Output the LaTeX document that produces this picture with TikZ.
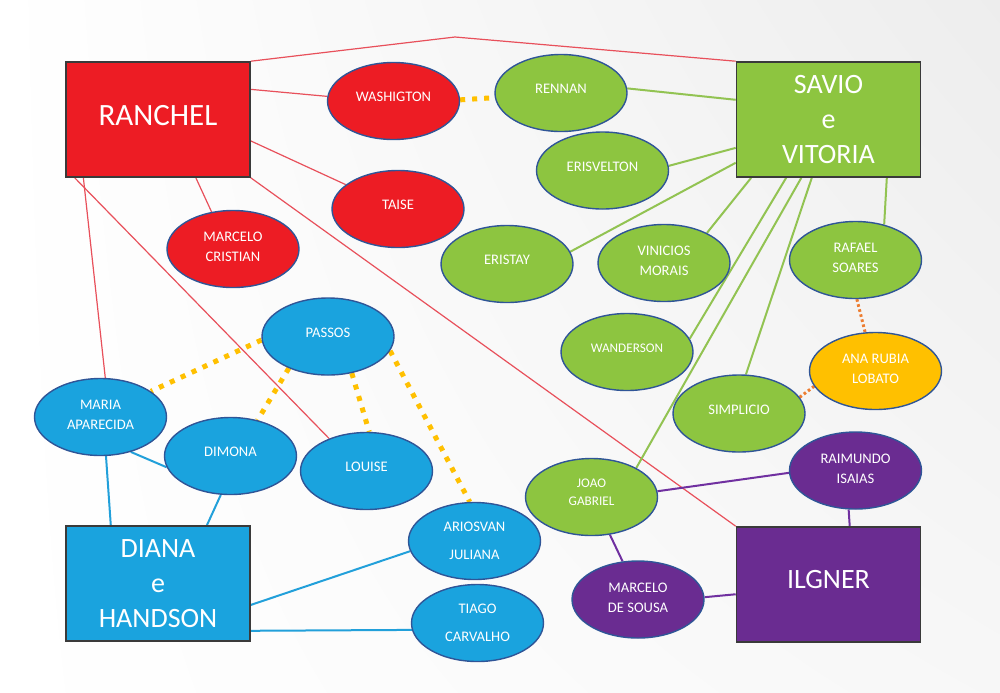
\documentclass[tikz,border=0pt]{standalone}
\usepackage{fontspec}
\setmainfont{Carlito}
\usetikzlibrary{shapes.geometric,shadings}
\definecolor{vermelho}{HTML}{ED1C24}
\definecolor{verde}{HTML}{8DC540}
\definecolor{azul}{HTML}{1AA3DE}
\definecolor{roxo}{HTML}{6A2C91}
\definecolor{ouro}{HTML}{FFC000}
\definecolor{laranja}{HTML}{ED7D31}
\definecolor{contorno}{HTML}{2F5597}
\definecolor{borda}{HTML}{3A3A3A}
\definecolor{linhaver}{HTML}{E8505B}
\definecolor{linhaverde}{HTML}{92C352}
\definecolor{linhaazul}{HTML}{22A0DA}
\definecolor{linharoxo}{HTML}{7030A0}
\pgfdeclarelayer{fundo}
\pgfdeclarelayer{linhas}
\pgfsetlayers{fundo,linhas,main}

\begin{document}
\begin{tikzpicture}[x=0.5pt,y=-0.5pt,
  caixa/.style={draw=borda, line width=0.8pt, minimum width=92pt, minimum height=57.5pt,
    inner sep=0pt, align=center, text=white, font=\fontsize{14}{17.5}\selectfont},
  pessoa/.style={ellipse, draw=contorno, line width=0.7pt, minimum width=66pt,
    minimum height=38.5pt, inner sep=0pt, align=center, text=white, text depth=4pt,
    font=\fontsize{7.3}{10}\selectfont},
  duas/.style={text depth=2pt},
  largas/.style={text depth=-2.6pt},
  fioR/.style={linhaver, line width=0.6pt},
  fioG/.style={linhaverde, line width=1pt},
  fioB/.style={linhaazul, line width=1pt},
  fioP/.style={linharoxo, line width=1pt},
  pontos/.style={ouro, line width=2.5pt, dash pattern=on 2.5pt off 3.5pt},
  pontinhos/.style={laranja, line width=1.5pt, dash pattern=on 1.3pt off 1.3pt}]
\useasboundingbox (0,0) rectangle (1000,692);
\begin{pgfonlayer}{fundo}
\shade[upper left=white, upper right=black!7, lower left=white, lower right=black!3]
  (0,0) rectangle (1000,692);
\end{pgfonlayer}
% boxes
\node[caixa, fill=vermelho, text depth=4.5pt, font=\fontsize{15.5}{18}\selectfont] (ranchel) at (158,119.5) {RANCHEL};
\node[caixa, fill=verde] (savio) at (828.5,119.5) {SAVIO\\e\\VITORIA};
\node[caixa, fill=azul] (diana) at (158,583.5) {DIANA\\e\\HANDSON};
\node[caixa, fill=roxo, text depth=5.5pt] (ilgner) at (828.5,584.5) {ILGNER};
\coordinate (topo) at (455,37);
% red ones
\node[pessoa, fill=vermelho] (washigton) at (393.5,101) {WASHIGTON};
\node[pessoa, fill=vermelho] (taise) at (398,209) {TAISE};
\node[pessoa, duas, fill=vermelho] (mcristian) at (233,249) {MARCELO\\CRISTIAN};
% green ones
\node[pessoa, fill=verde] (rennan) at (561,93) {RENNAN};
\node[pessoa, fill=verde] (erisvelton) at (602.5,170.5) {ERISVELTON};
\node[pessoa, fill=verde] (eristay) at (507,264) {ERISTAY};
\node[pessoa, duas, fill=verde] (vinicios) at (664,263) {VINICIOS\\MORAIS};
\node[pessoa, duas, fill=verde] (rafael) at (855.5,260) {RAFAEL\\SOARES};
\node[pessoa, fill=verde, font=\fontsize{6.6}{9}\selectfont] (wanderson) at (627,352) {WANDERSON};
\node[pessoa, fill=verde] (simplicio) at (739,413.5) {SIMPLICIO};
\node[pessoa, fill=verde, text depth=4.5pt, font=\fontsize{6.6}{9}\selectfont] (joao) at (591.5,497) {JOAO\\GABRIEL};
\node[pessoa, duas, fill=ouro] (ana) at (875.5,371) {ANA RUBIA\\LOBATO};
% purple ones
\node[pessoa, duas, fill=roxo] (raimundo) at (855.5,470.5) {RAIMUNDO\\ISAIAS};
\node[pessoa, duas, fill=roxo] (msousa) at (638,599.5) {MARCELO\\DE SOUSA};
% blue ones
\node[pessoa, fill=azul] (passos) at (328,336.5) {PASSOS};
\node[pessoa, duas, fill=azul] (maria) at (100.5,417) {MARIA\\APARECIDA};
\node[pessoa, fill=azul] (dimona) at (230.5,456) {DIMONA};
\node[pessoa, fill=azul] (louise) at (366.5,471) {LOUISE};
\node[pessoa, largas, fill=azul] (ariosvan) at (474.5,541) {ARIOSVAN\\[4pt]JULIANA};
\node[pessoa, largas, fill=azul] (tiago) at (477.5,623) {TIAGO\\[4pt]CARVALHO};
\begin{pgfonlayer}{linhas}
% RANCHEL
\draw[fioR] (ranchel.north east) -- (topo) -- (savio.north west);
\draw[fioR] (ranchel.18) -- (washigton.176);
\draw[fioR] (ranchel.347) -- (taise.155);
\draw[fioR] (ranchel.303) -- (mcristian.120);
\draw[fioR] (ranchel.218) -- (maria.83);
\draw[fioR] (ranchel.215) -- (louise.139);
\draw[fioR] (ranchel.south east) -- (ilgner.north west);
% SAVIO e VITORIA
\draw[fioG] (rennan.4) -- (savio.168);
\draw[fioG] (erisvelton.4) -- (savio.197);
\draw[fioG] (eristay.11) -- (savio.205);
\draw[fioG] (vinicios.35) -- (savio.217);
\draw[fioG] (wanderson.12) -- (savio.234);
\draw[fioG] (joao.33) -- (savio.245);
\draw[fioG] (simplicio.80) -- (savio.254);
\draw[fioG] (rafael.51) -- (savio.315);
% ILGNER
\draw[fioP] (joao.5) -- (raimundo.182);
\draw[fioP] (raimundo.260) -- (ilgner.70);
\draw[fioP] (joao.296) -- (msousa.112);
\draw[fioP] (msousa.2) -- (ilgner.186);
% DIANA e HANDSON
\draw[fioB] (maria.278) -- (diana.129);
\draw[fioB] (maria.311) -- (dimona.190);
\draw[fioB] (dimona.256) -- (diana.50);
\draw[fioB] (diana.347) -- (ariosvan.189);
\draw[fioB] (diana.333) -- (tiago.186);
% dotted
\draw[pontos] (washigton.1) -- (rennan.184);
\draw[pontos] (passos.183) -- (maria.27);
\draw[pontos] (passos.219) -- (dimona.53);
\draw[pontos] (passos.303) -- (louise.86);
\draw[pontos] (passos.347) -- (ariosvan.97);
\draw[pontinhos] (rafael.272) -- (ana.105);
\draw[pontinhos] (simplicio.15) -- (ana.194);
\end{pgfonlayer}
\end{tikzpicture}
\end{document}
